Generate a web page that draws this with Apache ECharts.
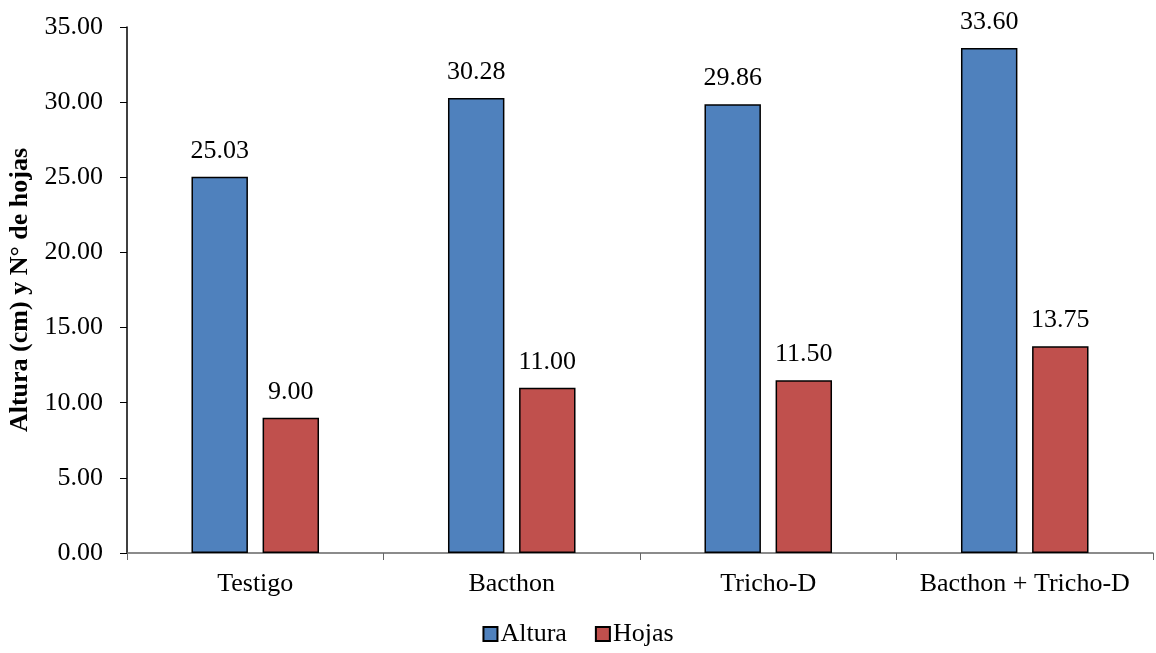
<!DOCTYPE html>
<html><head><meta charset="utf-8">
<script src="https://cdn.jsdelivr.net/npm/echarts@6/dist/echarts.min.js"></script>
<style>html,body{margin:0;padding:0;background:#fff}#c{width:1156px;height:653px}</style>
</head><body><div id="c"></div>
<script>
const categories = ['Testigo', 'Bacthon', 'Tricho-D', 'Bacthon + Tricho-D'];
const altura = [25.03, 30.28, 29.86, 33.60];
const hojas = [9.00, 11.00, 11.50, 13.75];
const yTicks = { min: 0, max: 35, interval: 5 };
const font = '"Liberation Serif", "Times New Roman", serif';
const chart = echarts.init(document.getElementById('c'));
const lbl = { show: true, position: 'top', distance: 13, color: '#000', fontFamily: font, fontSize: 26, formatter: p => p.value.toFixed(2) };
chart.setOption({
  animation: false,
  textStyle: { fontFamily: font },
  grid: { left: 127, right: 3, top: 27, bottom: 100, containLabel: false, outerBoundsMode: 'none' },
  legend: {
    bottom: 1, left: 'center', itemWidth: 14, itemHeight: 14, itemGap: 28,
    textStyle: { fontFamily: font, fontSize: 26, color: '#000', padding: [0,0,0,-2] },
    data: [{ name: 'Altura', icon: 'rect' }, { name: 'Hojas', icon: 'rect' }]
  },
  xAxis: {
    type: 'category', data: categories,
    axisLine: { lineStyle: { color: '#666', width: 1.5 } },
    axisTick: { show: true, length: 7, lineStyle: { color: '#666' } },
    axisLabel: { color: '#000', fontFamily: font, fontSize: 26, margin: 18, interval: 0 }
  },
  yAxis: {
    type: 'value', min: yTicks.min, max: yTicks.max, interval: yTicks.interval,
    name: 'Altura (cm) y N° de hojas', nameLocation: 'middle', nameGap: 92,
    nameTextStyle: { fontFamily: font, fontSize: 26, fontWeight: 'bold', color: '#000' },
    axisLine: { show: true, lineStyle: { color: '#000', width: 1.5 } },
    axisTick: { show: true, length: 7, lineStyle: { color: '#000' } },
    splitLine: { show: false },
    axisLabel: { color: '#000', fontFamily: font, fontSize: 26, margin: 24, formatter: v => v.toFixed(2) }
  },
  series: [
    { name: 'Altura', type: 'bar', data: altura, barWidth: '22%', barGap: '26%',
      itemStyle: { color: '#4F81BD', borderColor: '#000', borderWidth: 1.5 }, label: lbl },
    { name: 'Hojas', type: 'bar', data: hojas, barWidth: '22%',
      itemStyle: { color: '#C0504D', borderColor: '#000', borderWidth: 1.5 }, label: lbl }
  ]
});
</script></body></html>
